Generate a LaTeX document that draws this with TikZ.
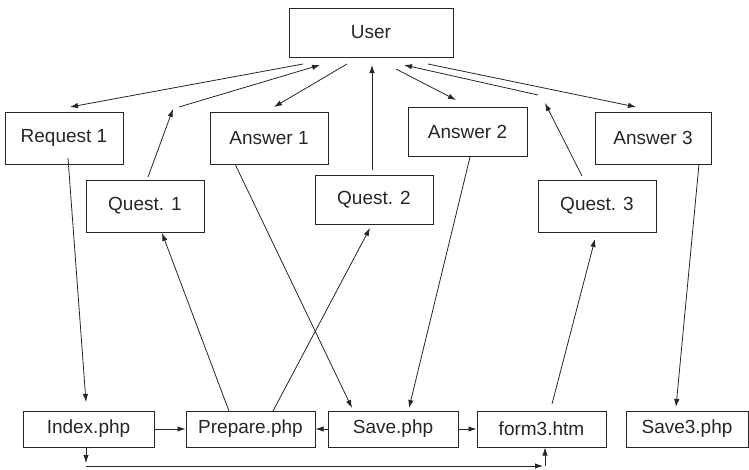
\documentclass[tikz,border=0pt]{standalone}
\usepackage{fontspec}
\setmainfont{Liberation Sans}
\usetikzlibrary{arrows.meta}
\begin{document}
\begin{tikzpicture}[x=1pt,y=-1pt,
  box/.style={draw=black!85, line width=1pt, fill=white, inner sep=0pt,
    text=black!85, font=\fontsize{19}{21}\selectfont},
  link/.style={draw=black!85, line width=0.8pt,
    -{Latex[length=8pt,width=5.4pt]}}]
\useasboundingbox (0,0) rectangle (749,469);

% pages and messages
\node[box, minimum width=164pt, minimum height=49pt] (user)  at (371,32.5) {User};
\node[box, minimum width=118pt, minimum height=52pt] (req)   at (64,138)   {Request 1};
\node[box, minimum width=118pt, minimum height=52pt] (ans1)  at (269,138)  {Answer 1};
\node[box, minimum width=119pt, minimum height=49pt] (ans2)  at (467.5,131.5) {Answer 2};
\node[box, minimum width=116pt, minimum height=52pt] (ans3)  at (653,138)  {Answer 3};
\node[box, minimum width=118pt, minimum height=52pt] (q1)    at (145,206)  {Quest. 1};
\node[box, minimum width=118pt, minimum height=49pt] (q2)    at (374,199.5) {Quest. 2};
\node[box, minimum width=118pt, minimum height=52pt] (q3)    at (597,206)  {Quest. 3};
\node[box, minimum width=131pt, minimum height=36pt] (index) at (88.5,429)  {Index.php};
\node[box, minimum width=129pt, minimum height=36pt] (prep)  at (250.5,429) {Prepare.php};
\node[box, minimum width=130pt, minimum height=36pt] (save)  at (393,429)  {Save.php};
\node[box, minimum width=129pt, minimum height=36pt] (form)  at (541.5,429) {form3.htm};
\node[box, minimum width=122pt, minimum height=36pt] (save3) at (687,429)  {Save3.php};

% connector ends around the User box
\coordinate (uReq)  at (303,64);
\coordinate (uQ1)   at (320,65);
\coordinate (uA1)   at (347,64);
\coordinate (uQ2)   at (372,65);
\coordinate (uA2)   at (396,69);
\coordinate (uQ3)   at (404,65);
\coordinate (uA3)   at (428,64);
% bends of the Quest. 1 and Quest. 3 replies
\coordinate (q1bendA) at (173,109);
\coordinate (q1bendB) at (179,107);
\coordinate (q3bendA) at (545,103);
\coordinate (q3bendB) at (538,95);
% ends near the upper boxes
\coordinate (reqIn)  at (70,107);
\coordinate (a1In)   at (274,107);
\coordinate (a2In)   at (456,100);
\coordinate (a3In)   at (636,107);
\coordinate (q1Out)  at (148,177);
\coordinate (q2Out)  at (372,170);
\coordinate (q3Out)  at (582,176);
\coordinate (reqOut) at (68,158);
\coordinate (a1Out)  at (235,164);
\coordinate (a2Out)  at (470,157);
\coordinate (a3Out)  at (699,164);
\coordinate (q1In)   at (162,233);
\coordinate (q2In)   at (370,228);
\coordinate (q3In)   at (595,239);
% ends near the page boxes
\coordinate (idxIn)  at (86,402);
\coordinate (prepOutA) at (229,411);
\coordinate (prepOutB) at (273,411);
\coordinate (saveInA)  at (352,408);
\coordinate (saveInB)  at (409,408);
\coordinate (formOut)  at (552,404);
\coordinate (s3In)     at (676,407);
% return path under the pages
\coordinate (retA) at (86,463);
\coordinate (retB) at (86,466);
\coordinate (retC) at (543,466);
\coordinate (retD) at (545,466);

% User side
\draw[link] (uReq) -- (reqIn);
\draw[link] (q1Out) -- (q1bendA);
\draw[link] (q1bendB) -- (uQ1);
\draw[link] (uA1) -- (a1In);
\draw[link] (q2Out) -- (uQ2);
\draw[link] (uA2) -- (a2In);
\draw[link] (q3Out) -- (q3bendA);
\draw[link] (q3bendB) -- (uQ3);
\draw[link] (uA3) -- (a3In);

% server side
\draw[link] (reqOut) -- (idxIn);
\draw[link] (prepOutA) -- (q1In);
\draw[link] (a1Out) -- (saveInA);
\draw[link] (prepOutB) -- (q2In);
\draw[link] (a2Out) -- (saveInB);
\draw[link] (formOut) -- (q3In);
\draw[link] (a3Out) -- (s3In);

% between pages
\draw[link] (index.east) -- (prep.west);
\draw[link] (save.west) -- (prep.east);
\draw[link] (save.east) -- (form.west);
\draw[link] (index.south -| retA) -- (retA);
\draw[link] (retB) -- (retC);
\draw[link] (retD) -- (form.south -| retD);
\end{tikzpicture}
\end{document}
